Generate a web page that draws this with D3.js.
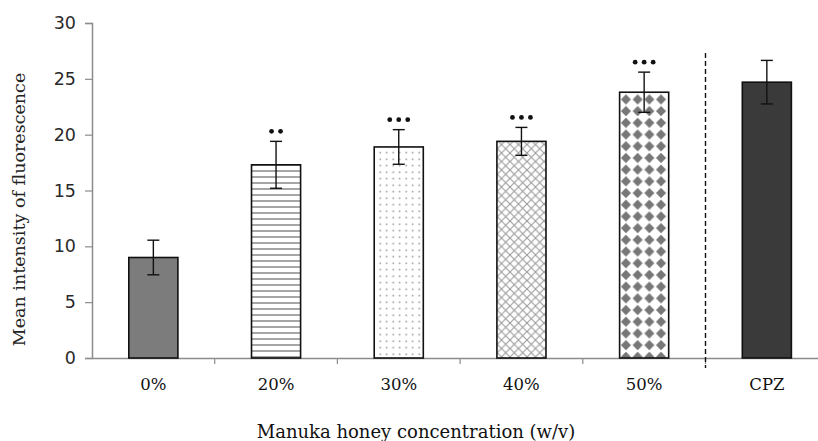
<!DOCTYPE html>
<html>
<head>
<meta charset="utf-8">
<script src="https://cdn.jsdelivr.net/npm/d3@7"></script>
<style>
  body { margin: 0; background: #fff; }
  svg { display: block; }
</style>
</head>
<body>
<div id="chart"></div>
<script>
// data
var categories = ["0%", "20%", "30%", "40%", "50%", "CPZ"];
var means = [9.0, 17.3, 18.9, 19.4, 23.8, 24.7];
var errors = [1.55, 2.1, 1.55, 1.25, 1.8, 1.95];
var stars = ["", "**", "***", "***", "***", ""];
var yTicks = [0, 5, 10, 15, 20, 25, 30];
var patterns = ["solid-mid", "hlines", "dots", "cross", "diamonds", "solid-dark"];

var W = 818, H = 441;
var left = 92, bottomY = 358, topY = 23;
var band = 122.7;

var svg = d3.select("#chart").append("svg")
  .attr("width", W).attr("height", H);

var x = d3.scaleBand()
  .domain(categories)
  .range([left, left + band * categories.length])
  .paddingInner(0.6).paddingOuter(0.3);

var y = d3.scaleLinear().domain([0, 30]).range([bottomY, topY]);

// fill patterns
var defs = svg.append("defs");

var p = defs.append("pattern").attr("id", "hlines")
  .attr("patternUnits", "userSpaceOnUse").attr("width", 8).attr("height", 6);
p.append("rect").attr("width", 8).attr("height", 6).attr("fill", "#fff");
p.append("line").attr("x1", 0).attr("x2", 8).attr("y1", 3).attr("y2", 3)
  .attr("stroke", "#6a6a6a").attr("stroke-width", 1.2);

p = defs.append("pattern").attr("id", "dots")
  .attr("patternUnits", "userSpaceOnUse").attr("width", 6.5).attr("height", 6.5);
p.append("rect").attr("width", 6.5).attr("height", 6.5).attr("fill", "#fff");
p.append("circle").attr("cx", 3.2).attr("cy", 3.2).attr("r", 0.8).attr("fill", "#8a8a8a");

p = defs.append("pattern").attr("id", "cross")
  .attr("patternUnits", "userSpaceOnUse").attr("width", 8.5).attr("height", 8.5);
p.append("rect").attr("width", 8.5).attr("height", 8.5).attr("fill", "#fff");
p.append("path").attr("d", "M0,0L8.5,8.5M8.5,0L0,8.5")
  .attr("stroke", "#9a9a9a").attr("stroke-width", 1.1);

p = defs.append("pattern").attr("id", "diamonds")
  .attr("patternUnits", "userSpaceOnUse").attr("width", 11.7).attr("height", 11.7);
p.append("rect").attr("width", 11.7).attr("height", 11.7).attr("fill", "#fff");
p.append("path").attr("d", "M5.85,0.8L10.9,5.85L5.85,10.9L0.8,5.85Z").attr("fill", "#777");

function fillFor(k) {
  if (k == "solid-mid") return "#7c7c7c";
  if (k == "solid-dark") return "#3a3a3a";
  return "url(#" + k + ")";
}

// y axis
var yAxis = svg.append("g")
  .attr("transform", "translate(" + left + ",0)")
  .call(d3.axisLeft(y).tickValues(yTicks).tickSize(7).tickPadding(9));
yAxis.select(".domain").attr("stroke", "#8c8c8c").attr("stroke-width", 1.5);
yAxis.selectAll(".tick line").attr("stroke", "#8c8c8c").attr("stroke-width", 1.2);
yAxis.selectAll("text").attr("font-family", "DejaVu Sans").attr("font-size", 17.5)
  .attr("fill", "#2a2a2a");

// x axis
var xAxis = svg.append("g")
  .attr("transform", "translate(0," + bottomY + ")")
  .call(d3.axisBottom(x).tickSize(0).tickPadding(20));
xAxis.select(".domain").attr("stroke", "#8c8c8c").attr("stroke-width", 1.5);
xAxis.selectAll("text").attr("font-family", "DejaVu Serif").attr("font-size", 16.5)
  .attr("fill", "#111");

// small ticks between categories
svg.append("g").selectAll("line")
  .data(d3.range(1, categories.length + 1))
  .join("line")
  .attr("x1", d => left + d * band).attr("x2", d => left + d * band)
  .attr("y1", bottomY).attr("y2", bottomY + 6)
  .attr("stroke", "#8c8c8c").attr("stroke-width", 1.2);

// dashed separator before CPZ
svg.append("line")
  .attr("x1", left + 5 * band).attr("x2", left + 5 * band)
  .attr("y1", 53).attr("y2", bottomY + 10)
  .attr("stroke", "#111").attr("stroke-width", 1.4)
  .attr("stroke-dasharray", "5,3");

// bars
svg.append("g").selectAll("rect")
  .data(categories)
  .join("rect")
  .attr("x", d => x(d))
  .attr("width", x.bandwidth())
  .attr("y", (d, i) => y(means[i]))
  .attr("height", (d, i) => y(0) - y(means[i]))
  .attr("fill", (d, i) => fillFor(patterns[i]))
  .attr("stroke", "#111").attr("stroke-width", 1.6);

// error bars
var eb = svg.append("g").attr("stroke", "#111").attr("stroke-width", 1.4);
categories.forEach(function(c, i) {
  var cx = x(c) + x.bandwidth() / 2;
  var hi = y(means[i] + errors[i]), lo = y(means[i] - errors[i]);
  eb.append("line").attr("x1", cx).attr("x2", cx).attr("y1", hi).attr("y2", lo);
  eb.append("line").attr("x1", cx - 6).attr("x2", cx + 6).attr("y1", hi).attr("y2", hi);
  eb.append("line").attr("x1", cx - 6).attr("x2", cx + 6).attr("y1", lo).attr("y2", lo);
});

// significance dots
var sg = svg.append("g");
categories.forEach(function(c, i) {
  var n = stars[i].length;
  if (!n) return;
  var cx = x(c) + x.bandwidth() / 2;
  var yy = y(means[i] + errors[i]) - 10;
  for (var k = 0; k < n; k++) {
    sg.append("circle")
      .attr("cx", cx + (k - (n - 1) / 2) * 9)
      .attr("cy", yy)
      .attr("r", 2.4)
      .attr("fill", "#111");
  }
});

// axis titles
svg.append("text")
  .attr("transform", "translate(25," + ((topY + bottomY) / 2 + 19) + ") rotate(-90)")
  .attr("text-anchor", "middle")
  .attr("font-family", "DejaVu Serif").attr("font-size", 17.5)
  .attr("fill", "#222")
  .text("Mean intensity of fluorescence");

svg.append("text")
  .attr("x", 416).attr("y", 438)
  .attr("text-anchor", "middle")
  .attr("font-family", "DejaVu Serif").attr("font-size", 18)
  .attr("fill", "#111")
  .text("Manuka honey concentration (w/v)");
</script>
</body>
</html>
